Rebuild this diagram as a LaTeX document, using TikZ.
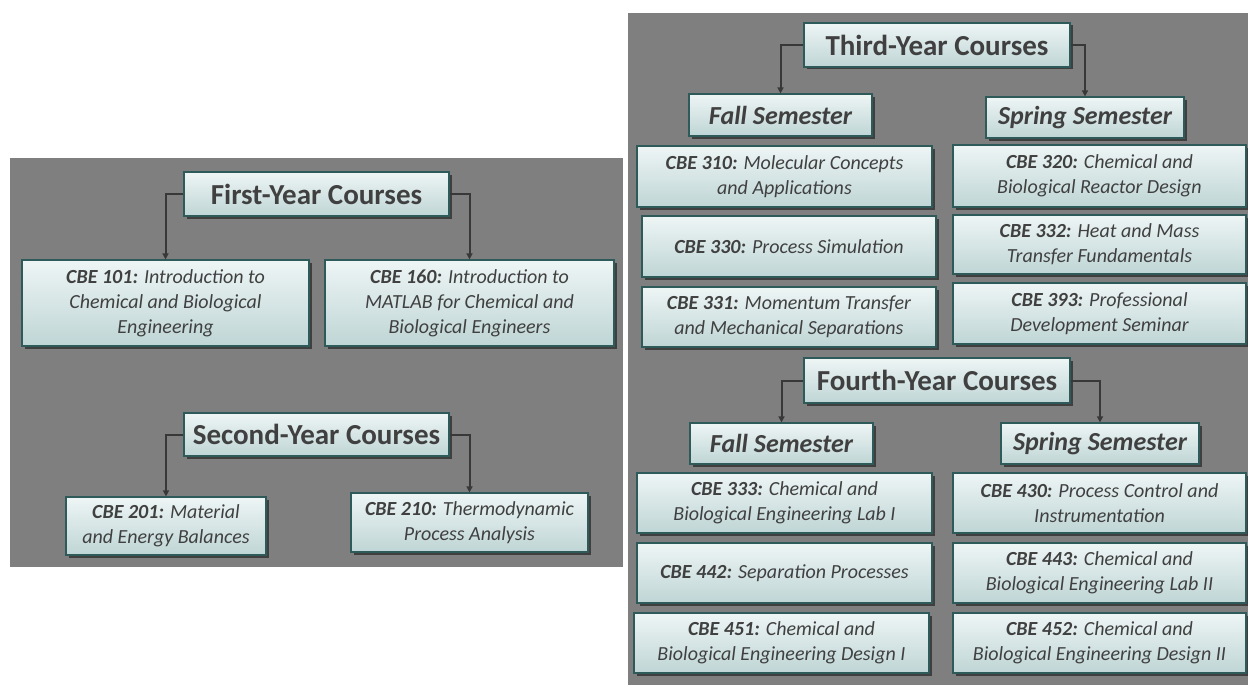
\documentclass[tikz,border=0pt]{standalone}
\usepackage{fontspec}
\setmainfont{Carlito}
\usetikzlibrary{arrows.meta,shadows}

\definecolor{panelgray}{HTML}{7F7F7F}
\definecolor{boxtop}{HTML}{EEF5F5}
\definecolor{boxbot}{HTML}{BFD5D5}
\definecolor{boxedge}{HTML}{2F5A5A}
\definecolor{inkgray}{HTML}{404040}
\definecolor{linkgray}{HTML}{383838}

\tikzset{
  basebox/.style={draw=boxedge, line width=1.2pt, top color=boxtop, bottom color=boxbot,
    text=inkgray, align=center, inner sep=0pt,
    drop shadow={shadow xshift=2.5pt, shadow yshift=-2.5pt, fill=black, opacity=0.5}},
  yearbox/.style={basebox, minimum width=265pt, minimum height=44pt,
    font=\fontsize{29}{33}\selectfont\bfseries},
  sembox/.style={basebox, minimum height=41pt,
    font=\fontsize{26}{29}\selectfont\bfseries\itshape},
  coursebox/.style={basebox, minimum height=60pt,
    font=\fontsize{20}{25}\selectfont\itshape},
  link/.style={draw=linkgray, line width=2pt, -{Triangle[length=6pt,width=6pt]}}
}
\newcommand{\code}[1]{\textbf{#1}}

\begin{document}
\begin{tikzpicture}[x=1pt, y=-1pt]
  \useasboundingbox (0,0) rectangle (1248,685);
  \fill[white] (0,0) rectangle (1248,685);

  % two grey panels
  \fill[panelgray] (10,158) rectangle (623,567);
  \fill[panelgray] (628,13) rectangle (1248,685);

  % ---------- first and second year ----------
  \node[yearbox] (y1) at (316.5,194) {First-Year Courses};
  \node[coursebox, minimum width=287pt, minimum height=86pt] (c101) at (165.5,303)
    {\code{CBE 101:} Introduction to\\Chemical and Biological\\Engineering};
  \node[coursebox, minimum width=289pt, minimum height=86pt] (c160) at (469.5,303)
    {\code{CBE 160:} Introduction to\\MATLAB for Chemical and\\Biological Engineers};
  \draw[link] (y1.west) -| (c101.north);
  \draw[link] (y1.east) -| (c160.north);

  \node[yearbox, minimum height=43pt] (y2) at (316.5,434.5) {Second-Year Courses};
  \node[coursebox, minimum width=200pt, minimum height=58pt] (c201) at (166,526)
    {\code{CBE 201:} Material\\and Energy Balances};
  \node[coursebox, minimum width=237pt, minimum height=59pt] (c210) at (469.5,522.5)
    {\code{CBE 210:} Thermodynamic\\Process Analysis};
  \draw[link] (y2.west) -| (c201.north);
  \draw[link] (y2.east) -| (c210.north);

  % ---------- third year ----------
  \node[yearbox, minimum width=266pt] (y3) at (937,45) {Third-Year Courses};
  \node[sembox, minimum width=183pt, minimum height=42pt] (f3) at (780.5,115) {Fall Semester};
  \node[sembox, minimum width=198pt] (s3) at (1085,117.5) {Spring Semester};
  \draw[link] (y3.west) -| (f3.north);
  \draw[link] (y3.east) -| (s3.north);

  \node[coursebox, minimum width=295pt, minimum height=61pt] (c310) at (784.5,176.5)
    {\code{CBE 310:} Molecular Concepts\\and Applications};
  \node[coursebox, minimum width=293pt, minimum height=62pt] (c320) at (1099.5,176)
    {\code{CBE 320:} Chemical and\\Biological Reactor Design};
  \node[coursebox, minimum width=294pt, minimum height=61pt] (c330) at (789,246.5)
    {\code{CBE 330:} Process Simulation};
  \node[coursebox, minimum width=293pt, minimum height=59pt] (c332) at (1099.5,244.5)
    {\code{CBE 332:} Heat and Mass\\Transfer Fundamentals};
  \node[coursebox, minimum width=294pt] (c331) at (789,317)
    {\code{CBE 331:} Momentum Transfer\\and Mechanical Separations};
  \node[coursebox, minimum width=293pt, minimum height=61pt] (c393) at (1099.5,313.5)
    {\code{CBE 393:} Professional\\Development Seminar};

  % ---------- fourth year ----------
  \node[yearbox, minimum width=266pt, minimum height=45pt] (y4) at (937,380.5) {Fourth-Year Courses};
  \node[sembox, minimum width=183pt] (f4) at (781.5,443.5) {Fall Semester};
  \node[sembox, minimum width=198pt] (s4) at (1100,443.5) {Spring Semester};
  \draw[link] (y4.west) -| (f4.north);
  \draw[link] (y4.east) -| (s4.north);

  \node[coursebox, minimum width=295pt] (c333) at (784.5,503)
    {\code{CBE 333:} Chemical and\\Biological Engineering Lab I};
  \node[coursebox, minimum width=293pt] (c430) at (1099.5,503)
    {\code{CBE 430:} Process Control and\\Instrumentation};
  \node[coursebox, minimum width=295pt] (c442) at (784.5,573)
    {\code{CBE 442:} Separation Processes};
  \node[coursebox, minimum width=293pt] (c443) at (1099.5,573)
    {\code{CBE 443:} Chemical and\\Biological Engineering Lab II};
  \node[coursebox, minimum width=295pt] (c451) at (781.5,643)
    {\code{CBE 451:} Chemical and\\Biological Engineering Design I};
  \node[coursebox, minimum width=293pt] (c452) at (1099.5,643)
    {\code{CBE 452:} Chemical and\\Biological Engineering Design II};
\end{tikzpicture}
\end{document}
